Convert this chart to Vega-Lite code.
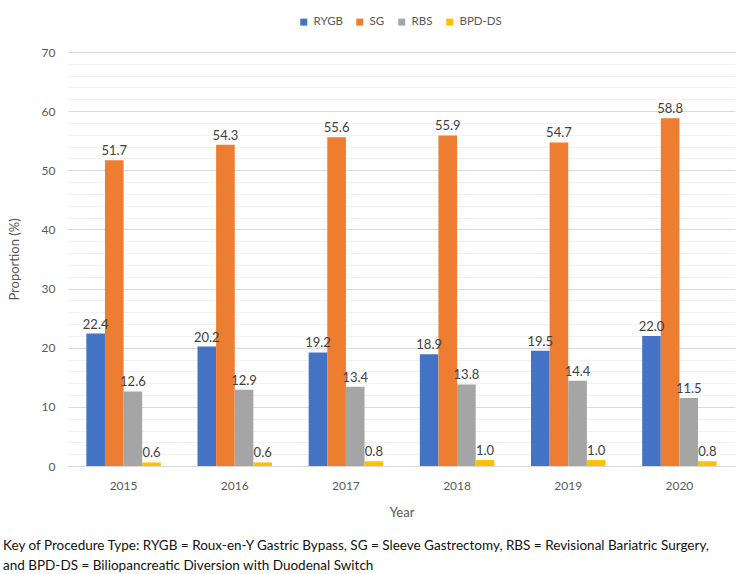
{
  "$schema": "https://vega.github.io/schema/vega-lite/v6.json",
  "width": 667,
  "height": 414,
  "autosize": {"type": "none"},
  "padding": {"left": 68, "top": 52, "right": 15, "bottom": 108},
  "background": "white",
  "config": {
    "font": "Lato",
    "view": {"stroke": null},
    "axis": {"labelFont": "Lato", "titleFont": "Lato", "labelColor": "#595959", "titleColor": "#595959", "labelFontSize": 12, "titleFontSize": 13, "titleFontWeight": "normal"}
  },
  "title": {
    "text": ["Key of Procedure Type: RYGB = Roux-en-Y Gastric Bypass, SG = Sleeve Gastrectomy, RBS = Revisional Bariatric Surgery,", "and BPD-DS = Biliopancreatic Diversion with Duodenal Switch"],
    "orient": "bottom",
    "anchor": "start",
    "frame": "group",
    "dx": -65,
    "offset": 20,
    "font": "Lato",
    "fontSize": 13.5,
    "fontWeight": "normal",
    "color": "#111111",
    "lineHeight": 20
  },
  "data": {
    "values": [
      {"year": "2015", "type": "RYGB", "value": 22.4},
      {"year": "2015", "type": "SG", "value": 51.7},
      {"year": "2015", "type": "RBS", "value": 12.6},
      {"year": "2015", "type": "BPD-DS", "value": 0.6},
      {"year": "2016", "type": "RYGB", "value": 20.2},
      {"year": "2016", "type": "SG", "value": 54.3},
      {"year": "2016", "type": "RBS", "value": 12.9},
      {"year": "2016", "type": "BPD-DS", "value": 0.6},
      {"year": "2017", "type": "RYGB", "value": 19.2},
      {"year": "2017", "type": "SG", "value": 55.6},
      {"year": "2017", "type": "RBS", "value": 13.4},
      {"year": "2017", "type": "BPD-DS", "value": 0.8},
      {"year": "2018", "type": "RYGB", "value": 18.9},
      {"year": "2018", "type": "SG", "value": 55.9},
      {"year": "2018", "type": "RBS", "value": 13.8},
      {"year": "2018", "type": "BPD-DS", "value": 1.0},
      {"year": "2019", "type": "RYGB", "value": 19.5},
      {"year": "2019", "type": "SG", "value": 54.7},
      {"year": "2019", "type": "RBS", "value": 14.4},
      {"year": "2019", "type": "BPD-DS", "value": 1.0},
      {"year": "2020", "type": "RYGB", "value": 22.0},
      {"year": "2020", "type": "SG", "value": 58.8},
      {"year": "2020", "type": "RBS", "value": 11.5},
      {"year": "2020", "type": "BPD-DS", "value": 0.8}
    ]
  },
  "encoding": {
    "x": {
      "field": "year", "type": "nominal",
      "scale": {"paddingInner": 0.33, "paddingOuter": 0.165},
      "axis": {"title": "Year", "labelAngle": 0, "domainColor": "#d9d9d9", "ticks": false, "labelPadding": 14, "titlePadding": 15}
    },
    "xOffset": {"field": "type", "type": "nominal", "sort": ["RYGB", "SG", "RBS", "BPD-DS"], "scale": {"paddingInner": 0, "paddingOuter": 0}},
    "y": {
      "field": "value", "type": "quantitative",
      "scale": {"domain": [0, 70], "nice": false},
      "axis": {
        "title": "Proportion (%)",
        "values": [0,2,4,6,8,10,12,14,16,18,20,22,24,26,28,30,32,34,36,38,40,42,44,46,48,50,52,54,56,58,60,62,64,66,68,70],
        "labelExpr": "datum.value % 10 === 0 ? datum.label : ''",
        "labelOverlap": false,
        "domain": false,
        "ticks": false,
        "labelPadding": 13,
        "titlePadding": 20,
        "gridColor": {"condition": {"test": "datum.value % 10 === 0", "value": "#d9d9d9"}, "value": "#f2f2f2"}
      }
    }
  },
  "layer": [
    {
      "mark": {"type": "bar"},
      "encoding": {
        "color": {
          "field": "type", "type": "nominal",
          "sort": ["RYGB", "SG", "RBS", "BPD-DS"],
          "scale": {"domain": ["RYGB", "SG", "RBS", "BPD-DS"], "range": ["#4472C4", "#ED7D31", "#A5A5A5", "#FFC000"]},
          "legend": {
            "title": null, "orient": "none", "direction": "horizontal",
            "legendX": 230, "legendY": -36,
            "symbolType": "square", "symbolSize": 49, "symbolStrokeWidth": 0,
            "labelFont": "Lato", "labelFontSize": 11.5, "labelColor": "#595959",
            "columnPadding": 11, "labelOffset": 4
          }
        }
      }
    },
    {
      "mark": {"type": "text", "dy": -9, "fontSize": 13, "color": "#404040", "font": "Lato"},
      "encoding": {
        "text": {"field": "value", "type": "quantitative", "format": ".1f"}
      }
    }
  ]
}
